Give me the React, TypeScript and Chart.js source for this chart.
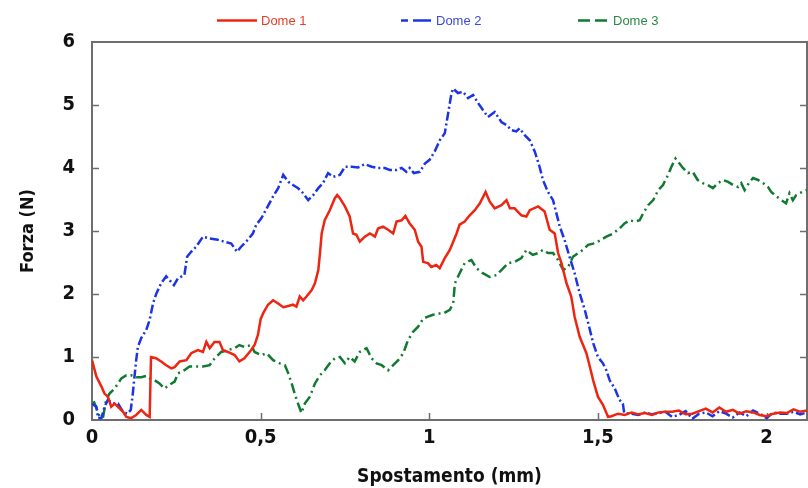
import React, { useEffect, useRef } from 'react';
import { Chart, registerables } from 'chart.js';

Chart.register(...registerables);

const X_TICKS = [0, 0.5, 1, 1.5, 2];
const Y_TICKS = [0, 1, 2, 3, 4, 5, 6];
const SERIES_NAMES = ['Dome 1', 'Dome 2', 'Dome 3'];

const DOME1: [number, number][] = [
  [0, 0.95], [0.013, 0.69], [0.028, 0.53], [0.037, 0.42], [0.047, 0.37], [0.057, 0.21], [0.067, 0.26],
  [0.077, 0.21], [0.092, 0.13], [0.102, 0.05], [0.116, 0.03], [0.131, 0.08], [0.146, 0.16], [0.161, 0.08],
  [0.171, 0.05], [0.175, 1.0], [0.19, 0.98], [0.205, 0.93], [0.22, 0.87], [0.235, 0.82], [0.245, 0.84],
  [0.26, 0.93], [0.28, 0.95], [0.294, 1.06], [0.314, 1.11], [0.329, 1.08], [0.339, 1.24], [0.349, 1.14],
  [0.363, 1.24], [0.378, 1.24], [0.388, 1.11], [0.403, 1.08], [0.423, 1.03], [0.437, 0.93], [0.452, 0.98],
  [0.472, 1.11], [0.482, 1.19], [0.492, 1.35], [0.5, 1.6], [0.508, 1.7], [0.522, 1.83], [0.537, 1.9],
  [0.552, 1.85], [0.567, 1.79], [0.582, 1.81], [0.596, 1.83], [0.606, 1.8], [0.616, 1.96], [0.626, 1.9],
  [0.636, 1.96], [0.651, 2.06], [0.661, 2.17], [0.671, 2.38], [0.676, 2.65], [0.681, 2.96], [0.69, 3.17],
  [0.705, 3.33], [0.72, 3.52], [0.727, 3.57], [0.735, 3.52], [0.75, 3.39], [0.764, 3.23], [0.774, 2.96],
  [0.784, 2.94], [0.794, 2.83], [0.809, 2.91], [0.824, 2.96], [0.839, 2.91], [0.848, 3.04], [0.863, 3.07],
  [0.878, 3.02], [0.893, 2.96], [0.903, 3.15], [0.918, 3.17], [0.929, 3.24], [0.942, 3.12], [0.957, 3.02],
  [0.967, 2.83], [0.977, 2.75], [0.982, 2.51], [0.996, 2.49], [1.006, 2.43], [1.021, 2.46], [1.031, 2.41],
  [1.046, 2.57], [1.061, 2.7], [1.071, 2.83], [1.081, 2.96], [1.09, 3.1], [1.105, 3.15], [1.12, 3.25],
  [1.135, 3.33], [1.15, 3.44], [1.167, 3.62], [1.179, 3.47], [1.194, 3.36], [1.214, 3.41], [1.229, 3.49],
  [1.239, 3.36], [1.253, 3.36], [1.273, 3.25], [1.288, 3.23], [1.298, 3.33], [1.323, 3.39], [1.342, 3.31],
  [1.357, 3.02], [1.372, 2.96], [1.382, 2.65], [1.392, 2.49], [1.407, 2.17], [1.421, 1.96], [1.431, 1.64],
  [1.446, 1.32], [1.466, 1.06], [1.476, 0.85], [1.486, 0.63], [1.5, 0.37], [1.515, 0.24], [1.53, 0.05],
  [1.54, 0.06], [1.56, 0.1], [1.58, 0.08], [1.6, 0.12], [1.62, 0.09], [1.64, 0.11], [1.66, 0.08],
  [1.68, 0.12], [1.7, 0.13], [1.72, 0.13], [1.74, 0.15], [1.76, 0.09], [1.78, 0.1], [1.8, 0.14],
  [1.82, 0.18], [1.84, 0.12], [1.86, 0.2], [1.88, 0.13], [1.9, 0.16], [1.92, 0.1], [1.94, 0.14],
  [1.96, 0.12], [1.98, 0.08], [2.0, 0.06], [2.02, 0.1], [2.04, 0.12], [2.06, 0.11], [2.08, 0.17],
  [2.1, 0.13], [2.12, 0.15],
];

const DOME2: [number, number][] = [
  [0, 0.26], [0.013, 0.21], [0.018, 0.03], [0.028, 0.03], [0.037, 0.21], [0.047, 0.32], [0.062, 0.26],
  [0.077, 0.26], [0.092, 0.13], [0.105, 0.1], [0.115, 0.16], [0.121, 0.42], [0.126, 0.69], [0.131, 0.95],
  [0.136, 1.16], [0.146, 1.3], [0.161, 1.43], [0.171, 1.59], [0.181, 1.85], [0.191, 2.01], [0.205, 2.17],
  [0.22, 2.28], [0.23, 2.22], [0.243, 2.14], [0.255, 2.25], [0.274, 2.3], [0.282, 2.59], [0.294, 2.67],
  [0.309, 2.75], [0.329, 2.91], [0.349, 2.88], [0.373, 2.86], [0.393, 2.83], [0.413, 2.8], [0.43, 2.67],
  [0.442, 2.75], [0.462, 2.86], [0.477, 2.96], [0.487, 3.1], [0.502, 3.2], [0.518, 3.36], [0.537, 3.55],
  [0.552, 3.68], [0.567, 3.89], [0.582, 3.78], [0.596, 3.73], [0.611, 3.68], [0.626, 3.6], [0.641, 3.49],
  [0.656, 3.57], [0.671, 3.68], [0.685, 3.76], [0.7, 3.92], [0.715, 3.86], [0.735, 3.89], [0.75, 4.02],
  [0.77, 4.02], [0.789, 4.01], [0.809, 4.06], [0.829, 4.02], [0.848, 4.0], [0.868, 4.0], [0.883, 3.97],
  [0.903, 3.97], [0.918, 4.0], [0.932, 3.94], [0.942, 4.0], [0.954, 3.92], [0.972, 3.94], [0.987, 4.07],
  [1.001, 4.13], [1.016, 4.26], [1.031, 4.44], [1.046, 4.55], [1.056, 4.87], [1.066, 5.19], [1.071, 5.26],
  [1.085, 5.19], [1.1, 5.21], [1.115, 5.11], [1.13, 5.16], [1.145, 5.03], [1.159, 4.92], [1.174, 4.81],
  [1.194, 4.89], [1.214, 4.73], [1.229, 4.68], [1.244, 4.6], [1.258, 4.58], [1.268, 4.63], [1.283, 4.52],
  [1.298, 4.44], [1.313, 4.26], [1.327, 4.02], [1.337, 3.81], [1.352, 3.62], [1.367, 3.49], [1.377, 3.28],
  [1.387, 3.07], [1.401, 2.86], [1.416, 2.59], [1.431, 2.33], [1.446, 2.01], [1.461, 1.75], [1.474, 1.48],
  [1.486, 1.22], [1.5, 1.0], [1.515, 0.9], [1.525, 0.79], [1.535, 0.63], [1.55, 0.5], [1.564, 0.32],
  [1.574, 0.26], [1.578, 0.11], [1.6, 0.1], [1.62, 0.08], [1.64, 0.12], [1.66, 0.09], [1.68, 0.11],
  [1.7, 0.13], [1.72, 0.05], [1.74, 0.08], [1.76, 0.14], [1.78, 0.02], [1.8, 0.1], [1.82, 0.12],
  [1.84, 0.06], [1.86, 0.14], [1.88, 0.1], [1.9, 0.04], [1.92, 0.12], [1.94, 0.06], [1.96, 0.15],
  [1.98, 0.1], [2.0, 0.03], [2.02, 0.12], [2.04, 0.1], [2.06, 0.1], [2.08, 0.13], [2.1, 0.09], [2.12, 0.12],
];

const DOME3: [number, number][] = [
  [0.005, 0.3], [0.013, 0.19], [0.023, 0.05], [0.033, 0.05], [0.042, 0.32], [0.052, 0.42], [0.067, 0.5],
  [0.077, 0.58], [0.087, 0.66], [0.102, 0.71], [0.116, 0.71], [0.131, 0.68], [0.146, 0.68], [0.161, 0.7],
  [0.171, 0.66], [0.186, 0.63], [0.2, 0.58], [0.215, 0.5], [0.23, 0.56], [0.245, 0.61], [0.255, 0.74],
  [0.274, 0.79], [0.289, 0.85], [0.304, 0.85], [0.329, 0.85], [0.349, 0.87], [0.359, 0.95], [0.368, 1.0],
  [0.383, 1.08], [0.403, 1.11], [0.423, 1.14], [0.437, 1.19], [0.452, 1.16], [0.472, 1.19], [0.482, 1.08],
  [0.502, 1.03], [0.518, 1.06], [0.537, 0.95], [0.557, 0.9], [0.572, 0.87], [0.582, 0.74], [0.592, 0.58],
  [0.601, 0.42], [0.611, 0.26], [0.621, 0.11], [0.631, 0.26], [0.646, 0.37], [0.661, 0.58], [0.676, 0.71],
  [0.69, 0.79], [0.705, 0.9], [0.72, 0.98], [0.735, 1.0], [0.75, 0.9], [0.764, 1.0], [0.779, 0.93],
  [0.794, 1.08], [0.814, 1.14], [0.829, 0.98], [0.844, 0.9], [0.859, 0.87], [0.878, 0.79], [0.893, 0.87],
  [0.908, 0.95], [0.923, 1.06], [0.937, 1.27], [0.952, 1.4], [0.967, 1.48], [0.982, 1.61], [0.996, 1.64],
  [1.011, 1.67], [1.026, 1.69], [1.041, 1.69], [1.061, 1.75], [1.071, 1.85], [1.076, 2.17], [1.09, 2.33],
  [1.105, 2.49], [1.125, 2.54], [1.14, 2.41], [1.159, 2.33], [1.179, 2.27], [1.199, 2.3], [1.214, 2.38],
  [1.234, 2.49], [1.253, 2.51], [1.273, 2.57], [1.288, 2.7], [1.307, 2.62], [1.323, 2.65], [1.337, 2.7],
  [1.352, 2.65], [1.367, 2.65], [1.382, 2.54], [1.397, 2.38], [1.412, 2.43], [1.426, 2.59], [1.441, 2.65],
  [1.456, 2.7], [1.471, 2.78], [1.486, 2.8], [1.5, 2.83], [1.525, 2.91], [1.545, 2.96], [1.564, 3.04],
  [1.579, 3.12], [1.594, 3.17], [1.609, 3.15], [1.624, 3.17], [1.634, 3.28], [1.649, 3.41], [1.664, 3.49],
  [1.679, 3.65], [1.693, 3.73], [1.708, 3.89], [1.718, 4.02], [1.73, 4.15], [1.742, 4.07], [1.752, 4.0],
  [1.767, 3.92], [1.781, 3.94], [1.796, 3.81], [1.811, 3.76], [1.826, 3.73], [1.841, 3.68], [1.856, 3.76],
  [1.871, 3.81], [1.886, 3.78], [1.901, 3.73], [1.916, 3.7], [1.925, 3.76], [1.935, 3.65], [1.95, 3.78],
  [1.96, 3.84], [1.975, 3.81], [1.99, 3.76], [2.004, 3.7], [2.014, 3.62], [2.029, 3.55], [2.044, 3.49],
  [2.058, 3.44], [2.068, 3.6], [2.078, 3.49], [2.088, 3.57], [2.098, 3.6], [2.107, 3.62], [2.119, 3.65],
];

const COLORS = ['#ec2612', '#1c34e2', '#127a30'];
const TEXT_COLORS = ['#e83c28', '#3c46e6', '#2a8a44'];
const DASHES: number[][] = [[], [9, 3, 2, 3], [10, 4, 2, 4]];

const NARROW = '"Liberation Sans Narrow", "DejaVu Sans Condensed", "Arial Narrow", sans-serif';

const framePlugin = {
  id: 'frameTicks',
  beforeDatasetsDraw(chart: any) {
    const { ctx, chartArea, scales } = chart;
    const { left, right, top, bottom } = chartArea;
    ctx.save();
    ctx.strokeStyle = '#6e6e6e';
    ctx.lineWidth = 1.5;
    ctx.beginPath();
    Y_TICKS.forEach((v) => {
      if (v === 0 || v === 6) return;
      const y = Math.round(scales.y.getPixelForValue(v)) + 0.5;
      ctx.moveTo(left, y);
      ctx.lineTo(left + 7, y);
      ctx.moveTo(right, y);
      ctx.lineTo(right - 7, y);
    });
    X_TICKS.forEach((v) => {
      if (v === 0) return;
      const x = Math.round(scales.x.getPixelForValue(v)) + 0.5;
      ctx.moveTo(x, bottom);
      ctx.lineTo(x, bottom - 7);
    });
    ctx.stroke();
    ctx.lineWidth = 2;
    ctx.strokeRect(left, top, right - left, bottom - top);
    ctx.restore();
  },
  afterDraw(chart: any) {
    const { ctx } = chart;
    const items = [
      { x1: 217, x2: 257, tx: 261 },
      { x1: 401, x2: 431, tx: 436 },
      { x1: 578, x2: 608, tx: 613 },
    ];
    ctx.save();
    ctx.font = '13px "Liberation Sans", Arial, sans-serif';
    ctx.textBaseline = 'middle';
    items.forEach((it, i) => {
      ctx.strokeStyle = COLORS[i];
      ctx.lineWidth = 2.5;
      ctx.setLineDash(i === 0 ? [] : i === 1 ? [7, 5, 18, 0] : [12, 5]);
      ctx.beginPath();
      ctx.moveTo(it.x1, 20.5);
      ctx.lineTo(it.x2, 20.5);
      ctx.stroke();
      ctx.setLineDash([]);
      ctx.fillStyle = TEXT_COLORS[i];
      ctx.fillText(SERIES_NAMES[i], it.tx, 21);
    });
    ctx.restore();
  },
};

export default function App() {
  const ref = useRef<HTMLCanvasElement>(null);
  useEffect(() => {
    document.body.style.margin = '0';
    document.body.style.background = '#ffffff';
    const series = [DOME1, DOME2, DOME3];
    const chart = new Chart(ref.current!, {
      type: 'line',
      data: {
        datasets: series.map((s, i) => ({
          label: SERIES_NAMES[i],
          data: s.map(([x, y]) => ({ x, y })),
          borderColor: COLORS[i],
          backgroundColor: COLORS[i],
          borderWidth: 2.5,
          borderDash: DASHES[i],
          pointRadius: 0,
          tension: 0,
          fill: false,
        })),
      },
      options: {
        animation: false,
        responsive: false,
        devicePixelRatio: 1,
        layout: { padding: { top: 42, right: 1, left: 0, bottom: 0 } },
        plugins: { legend: { display: false }, tooltip: { enabled: false } },
        scales: {
          x: {
            type: 'linear',
            min: 0,
            max: 2.12,
            afterBuildTicks: (s: any) => { s.ticks = X_TICKS.map((v) => ({ value: v })); },
            afterFit: (s: any) => { s.height = 68; },
            grid: { display: false, drawTicks: false },
            border: { display: false },
            ticks: {
              padding: 6,
              color: '#111',
              font: { family: NARROW, size: 20, weight: 'bold' },
              callback: (v: any) => String(v).replace('.', ','),
              maxRotation: 0,
            },
            title: {
              display: true,
              text: 'Spostamento (mm)',
              color: '#111',
              font: { family: NARROW, size: 19, weight: 'bold' },
              padding: { top: 0, bottom: 0 },
            },
          },
          y: {
            type: 'linear',
            min: 0,
            max: 6,
            afterBuildTicks: (s: any) => { s.ticks = Y_TICKS.map((v) => ({ value: v })); },
            afterFit: (s: any) => { s.width = 92; },
            grid: { display: false, drawTicks: false },
            border: { display: false },
            ticks: {
              padding: 17,
              color: '#111',
              font: { family: NARROW, size: 20, weight: 'bold' },
            },
            title: {
              display: true,
              text: 'Forza (N)',
              color: '#111',
              font: { family: NARROW, size: 18, weight: 'bold' },
              padding: { top: 18, bottom: 0 },
            },
          },
        },
      },
      plugins: [framePlugin],
    });
    return () => chart.destroy();
  }, []);
  return (
    <div style={{ width: 808, height: 488 }}>
      <canvas ref={ref} width={808} height={488} style={{ display: 'block' }} />
    </div>
  );
}
